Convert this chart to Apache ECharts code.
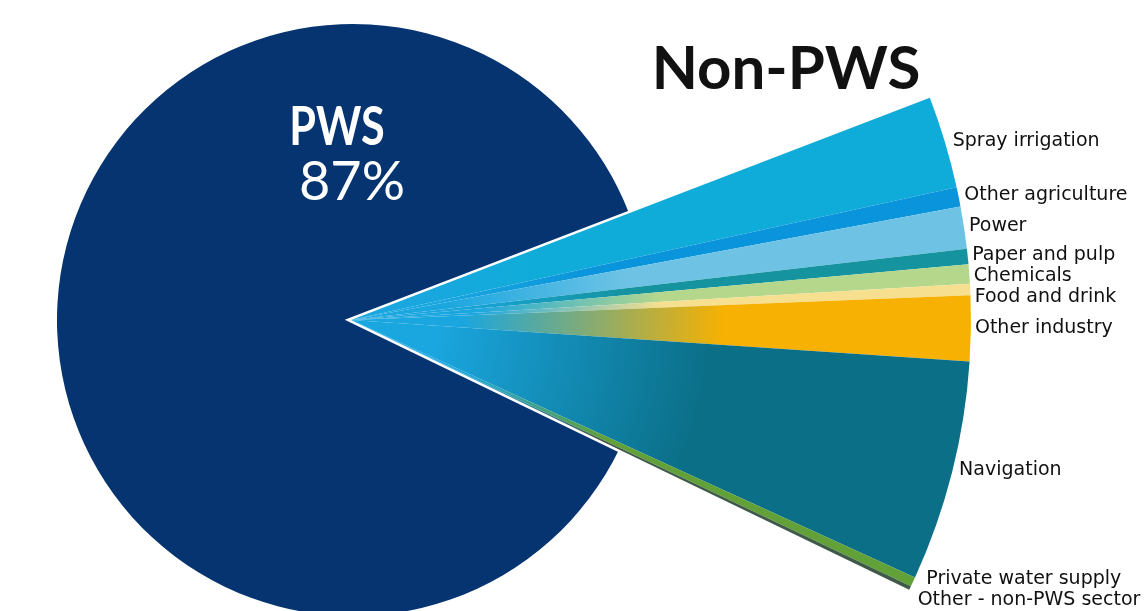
<!DOCTYPE html>
<html>
<head>
<meta charset="utf-8">
<script src="https://cdn.jsdelivr.net/npm/echarts@6/dist/echarts.min.js"></script>
<style>
html,body{margin:0;padding:0;background:#fff;}
#main{width:1148px;height:611px;}
</style>
</head>
<body>
<div id="main"></div>
<script>
// ---- data ----
const titleText = 'Non-PWS';
const pwsName = 'PWS';
const pwsValue = 87;
const nonPwsValue = 13;
const sectorNames = ['Spray irrigation','Other agriculture','Power','Paper and pulp','Chemicals','Food and drink','Other industry','Navigation','Private water supply','Other - non-PWS sector'];
const sectorValues = [2.4, 0.5, 1.1, 0.4, 0.5, 0.3, 1.7, 5.75, 0.25, 0.1];

// ---- style ----
const sectorColors = ['#10acd9','#0a94db','#6ec3e5','#15939f','#b5d78c','#f6df8e','#f6b102','#0b6f88','#62a038','#3f5a48'];
const fadeStops = [[0.1,0.3],[0.15,0.4],[0.15,0.45],[0.15,0.45],[0.2,0.5],[0.2,0.5],[0.18,0.6],[0.14,0.58],[0.2,0.45],[0.2,0.45]];
const apexColor = '#1aa6df';
const navy = '#053470';
const CENTER = [351, 320];
const NAVY_CENTER = [353, 320];
const BIG_R = 620;
const SMALL_R = 296;
const START = 21;

const chart = echarts.init(document.getElementById('main'), null, {renderer:'canvas'});

function grad(i){
  const c = sectorColors[i], f = fadeStops[i];
  return new echarts.graphic.RadialGradient(CENTER[0], CENTER[1], BIG_R, [
    {offset:0, color:apexColor},
    {offset:f[0], color:apexColor},
    {offset:f[1], color:c},
    {offset:1, color:c}
  ], true);
}

const hidden = {color:'rgba(0,0,0,0)', borderWidth:0};

const sectorData = sectorNames.map((n,i)=>({
  name:n, value:sectorValues[i],
  itemStyle:{color:grad(i), borderWidth:0}
}));
sectorData.push({name:pwsName, value:pwsValue, itemStyle:hidden, label:{show:false}});

const option = {
  animation:false,
  title:{
    text:titleText, left:781, top:35, textAlign:'center',
    textStyle:{fontFamily:'Lato', fontWeight:'bold', fontSize:60, color:'#111'}
  },
  graphic:[
    {type:'text', z:100, x:337, y:128, scaleX:0.8, style:{text:pwsName, fill:'#ffffff', font:'bold 54px Lato', textAlign:'center', textVerticalAlign:'middle'}},
    {type:'text', z:100, x:352, y:183, style:{text:pwsValue+'%', fill:'#ffffff', font:'normal 54px Lato', textAlign:'center', textVerticalAlign:'middle'}}
  ],
  series:[
    {
      type:'pie', center:NAVY_CENTER, radius:SMALL_R, startAngle:START, clockwise:true,
      silent:true, label:{show:false}, labelLine:{show:false}, z:1,
      data:[
        {name:titleText, value:nonPwsValue, itemStyle:hidden},
        {name:pwsName, value:pwsValue, itemStyle:{color:navy, borderWidth:0}}
      ]
    },
    {
      type:'pie', center:CENTER, radius:BIG_R, startAngle:START, clockwise:true,
      silent:true, label:{show:false}, labelLine:{show:false}, z:2,
      data:[
        {name:titleText, value:nonPwsValue, itemStyle:{color:'rgba(0,0,0,0)', borderColor:'#ffffff', borderWidth:5, borderJoin:'miter'}},
        {name:pwsName, value:pwsValue, itemStyle:hidden}
      ]
    },
    {
      type:'pie', center:CENTER, radius:BIG_R, startAngle:START, clockwise:true,
      silent:true, z:3, avoidLabelOverlap:true,
      label:{show:true, position:'outside', formatter:'{b}', distanceToLabelLine:4, overflow:'none', edgeDistance:0,
        fontFamily:'DejaVu Sans', fontSize:19, lineHeight:18, color:'#111'},
      labelLine:{show:false, length:4, length2:0},
      data:sectorData
    }
  ]
};
chart.setOption(option);
</script>
</body>
</html>
